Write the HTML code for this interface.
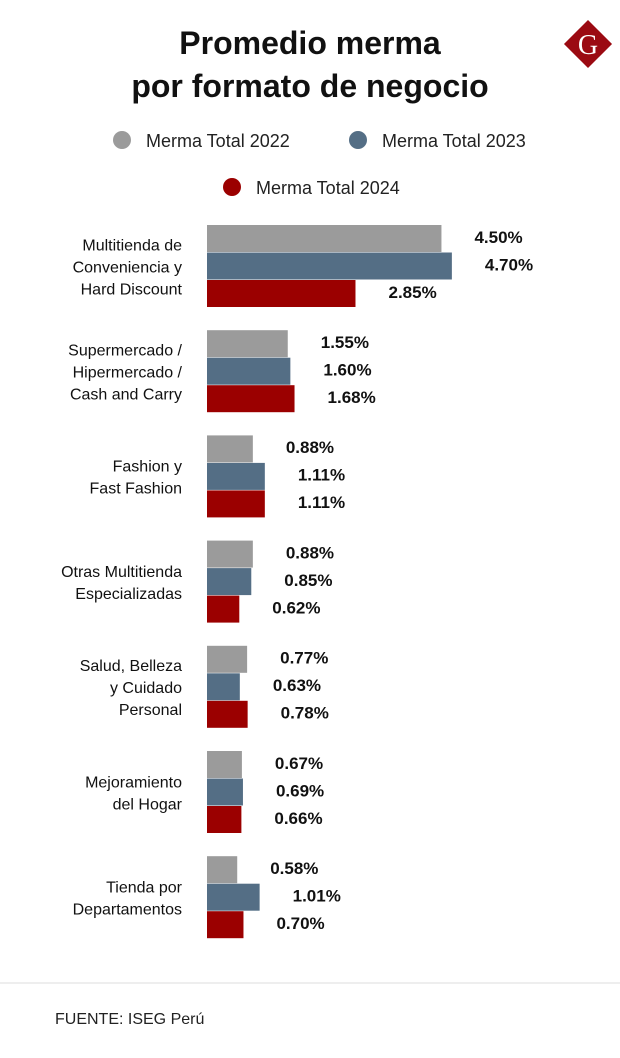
<!DOCTYPE html>
<html><head><meta charset="utf-8"><style>
body{margin:0;width:620px;height:1058px;background:#fff;font-family:"Liberation Sans",sans-serif;overflow:hidden}
svg{display:block}
</style></head><body>
<svg width="620" height="1058" id="c">
<text x="310" y="54" text-anchor="middle" font-size="32" font-weight="bold" fill="#111">Promedio merma</text>
<text x="310" y="97" text-anchor="middle" font-size="32" font-weight="bold" fill="#111">por formato de negocio</text>
<g>
<rect x="571" y="27" width="34" height="34" fill="#9b0a12" transform="rotate(45 588 44)"/>
<text x="588" y="54" text-anchor="middle" font-family="Liberation Serif,serif" font-size="28" fill="#fff">G</text>
</g>
<g>
<circle cx="122" cy="140" r="9" fill="#9b9b9b"/><text x="146" y="147" font-size="18" fill="#222">Merma Total 2022</text>
<circle cx="358" cy="140" r="9" fill="#546e85"/><text x="382" y="147" font-size="18" fill="#222">Merma Total 2023</text>
<circle cx="232" cy="187" r="9" fill="#9b0000"/><text x="256" y="194" font-size="18" fill="#222">Merma Total 2024</text>
</g>
<g id="bars"></g>
<line x1="0" y1="983" x2="620" y2="983" stroke="#ddd"/>
<text x="55" y="1024" font-size="16" fill="#222">FUENTE: ISEG Perú</text>
</svg>
<script>
const categories=[["Multitienda de","Conveniencia y","Hard Discount"],["Supermercado /","Hipermercado /","Cash and Carry"],["Fashion y","Fast Fashion"],["Otras Multitienda","Especializadas"],["Salud, Belleza","y Cuidado","Personal"],["Mejoramiento","del Hogar"],["Tienda por","Departamentos"]];
const v2022=[4.50,1.55,0.88,0.88,0.77,0.67,0.58];
const v2023=[4.70,1.60,1.11,0.85,0.63,0.69,1.01];
const v2024=[2.85,1.68,1.11,0.62,0.78,0.66,0.70];
const series=[v2022,v2023,v2024];
const colors=["#9b9b9b","#546e85","#9b0000"];
const names=["2022","2023","2024"];
const NS="http://www.w3.org/2000/svg";
const g=document.getElementById('bars');
const x0=207,scale=52.1,top0=225,groupStep=105.2,barH=27.5;
const xs=v=>v*scale;
function mk(t,a){const e=document.createElementNS(NS,t);for(const k in a)e.setAttribute(k,a[k]);g.appendChild(e);return e;}
categories.forEach((cat,i)=>{
  const gy=top0+i*groupStep;
  series.forEach((s,j)=>{
    const y=gy+j*barH;
    const r=mk('rect',{x:x0,y:y,width:xs(s[i]),height:barH-0.5,fill:colors[j]});
    
    
    const t=mk('text',{x:x0+xs(s[i])+33,y:y+barH/2+4,'font-size':17,'font-weight':'bold',fill:'#111'});
    t.textContent=s[i].toFixed(2)+'%';
    
    
  });
  const mid=gy+barH*1.5;
  const n=cat.length;
  cat.forEach((line,k)=>{
    const t=mk('text',{x:182,y:mid+(k-(n-1)/2)*22+6,'text-anchor':'end','font-size':16,fill:'#111'});
    t.textContent=line;
    
    
  });
});
</script>
</body></html>
